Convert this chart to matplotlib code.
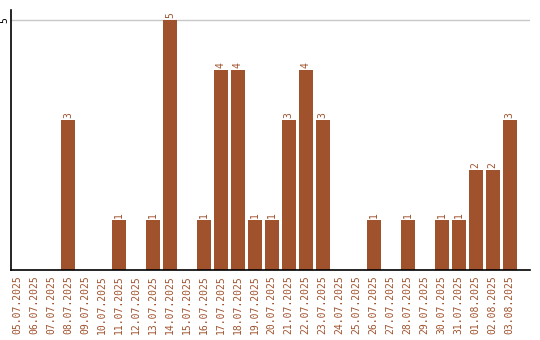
import matplotlib
matplotlib.use("Agg")
import matplotlib.pyplot as plt

dates = ["05.07.2025", "06.07.2025", "07.07.2025", "08.07.2025", "09.07.2025",
         "10.07.2025", "11.07.2025", "12.07.2025", "13.07.2025", "14.07.2025",
         "15.07.2025", "16.07.2025", "17.07.2025", "18.07.2025", "19.07.2025",
         "20.07.2025", "21.07.2025", "22.07.2025", "23.07.2025", "24.07.2025",
         "25.07.2025", "26.07.2025", "27.07.2025", "28.07.2025", "29.07.2025",
         "30.07.2025", "31.07.2025", "01.08.2025", "02.08.2025", "03.08.2025"]
counts = [0, 0, 0, 3, 0, 0, 1, 0, 1, 5, 0, 1, 4, 4, 1, 1, 3, 4, 3, 0,
          0, 1, 0, 1, 0, 1, 1, 2, 2, 3]

color = "#A0522D"
font = "DejaVu Sans Mono"

fig = plt.figure(figsize=(5.4, 3.4), dpi=100)
ax = fig.add_axes([0.0204, 0.206, 0.961, 0.765])

x = list(range(len(dates)))
ax.bar(x, counts, width=0.82, color=color, zorder=2)

# value labels on top of the non-empty bars
for xi, c in zip(x, counts):
    if c > 0:
        ax.text(xi, c + 0.04, str(c), rotation=90, ha="center", va="bottom",
                color=color, fontsize=7, family=font)

ax.set_xlim(-0.35, 30.2)
ax.set_ylim(0, 5.2)
ax.set_xticks(x)
ax.set_xticklabels(dates, rotation=90, color=color, fontsize=7, family=font)
ax.set_yticks([5])
ax.set_yticklabels(["5"], rotation=90, fontsize=7, family=font, va="center")
ax.tick_params(axis="x", length=0, pad=4)
ax.tick_params(axis="y", length=0, pad=1)
ax.yaxis.grid(True, color="#c8c8c8", linewidth=1, zorder=0)

for side in ["top", "right"]:
    ax.spines[side].set_visible(False)
ax.spines["left"].set_linewidth(1.2)
ax.spines["bottom"].set_linewidth(1.2)

fig.savefig("out.png", dpi=100)
